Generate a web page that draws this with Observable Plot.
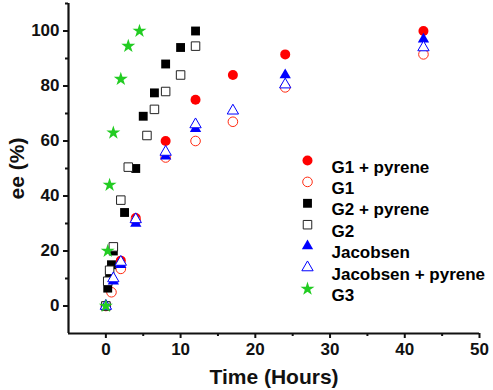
<!DOCTYPE html>
<html><head><meta charset="utf-8">
<script src="https://cdn.jsdelivr.net/npm/d3@7"></script>
<script src="https://cdn.jsdelivr.net/npm/@observablehq/plot@0.6"></script>
<style>
html,body{margin:0;padding:0;background:#fff;}
#chart svg{font-family:Arial,"Liberation Sans",sans-serif;}
</style>
</head><body><div id="chart"></div>
<script>
// Series (time in hours, ee in %)
const seriesNames = ["G1 + pyrene","G1","G2 + pyrene","G2","Jacobsen","Jacobsen + pyrene","G3"];
const g1pyX = [0, 2, 4, 8, 12, 17, 24, 42.5];
const g1pyY = [0, 16.5, 32, 60, 75, 84, 91.5, 100];
const g1X = [0, 0.75, 2, 4, 8, 12, 17, 24, 42.5];
const g1Y = [0, 5, 13.5, 31, 54, 60, 67, 79.5, 91.5];
const g2pyX = [0, 0.25, 0.5, 0.75, 1, 2.5, 4, 5, 6.5, 8, 10, 12];
const g2pyY = [0, 6.5, 11, 15, 20, 34, 50, 69, 77.5, 88, 94, 100];
const g2X = [0, 0.25, 0.5, 1, 2, 3, 5.5, 6.5, 8, 10, 12];
const g2Y = [0, 9, 13, 21.5, 38.5, 50.5, 62, 71.5, 78, 84, 94.5];
const jacX = [0, 1, 2, 4, 8, 12, 24, 42.5];
const jacY = [0, 9, 15, 30, 54.5, 64.5, 84, 97];
const jacpyX = [0, 1, 2, 4, 8, 12, 17, 24, 42.5];
const jacpyY = [0, 10, 16, 31.5, 56, 66, 71, 80.5, 94];
const g3X = [0, 0.25, 0.5, 1, 2, 3, 4.5];
const g3Y = [0, 20, 44, 63, 82.5, 94.5, 100];
const xTicks = [0, 10, 20, 30, 40, 50];
const xMinor = [5, 15, 25, 35, 45];
const yTicks = [0, 20, 40, 60, 80, 100];
const yMinor = [10, 30, 50, 70, 90, 110];

const styles = [
  {symbol:"circle", fill:"#ff0000", stroke:"none", r:5},
  {symbol:"circle", fill:"white", stroke:"#ff2a10", r:4.8},
  {symbol:"square", fill:"#000000", stroke:"none", r:5},
  {symbol:"square", fill:"white", stroke:"#222", r:4.8},
  {symbol:"triangle", fill:"#0000ff", stroke:"none", r:4.2},
  {symbol:"triangle", fill:"white", stroke:"#0000ff", r:4.2},
  {symbol:"star", fill:"#22cc22", stroke:"none", r:4.4}
];
const xs = [g1pyX, g1X, g2pyX, g2X, jacX, jacpyX, g3X];
const ys = [g1pyY, g1Y, g2pyY, g2Y, jacY, jacpyY, g3Y];
const tables = xs.map((xa, k) => xa.map((x, i) => ({x, y: ys[k][i]})));

const W = 493, H = 390;
const mL = 68, mR = 14, mT = 3, mB = 57;

const dataMarks = tables.map((t, k) => Plot.dot(t, {x:"x", y:"y", symbol: () => styles[k].symbol,
  r: styles[k].r, fill: styles[k].fill, stroke: styles[k].stroke, strokeWidth: 1}));

const legendMarks = [];
seriesNames.forEach((name, k) => {
  const s = styles[k];
  const dy = 157 + k * 21.4;
  legendMarks.push(Plot.dot([name], {frameAnchor:"top-left", dx: 239, dy, symbol: () => s.symbol,
    r: s.r, fill: s.fill, stroke: s.stroke, strokeWidth: 1}));
  legendMarks.push(Plot.text([name], {frameAnchor:"top-left", dx: 263, dy, text: d => d,
    textAnchor:"start", fontSize: 17, fontWeight:"bold", fill:"#000"}));
});

const plot = Plot.plot({
  width: W, height: H,
  marginLeft: mL, marginRight: mR, marginTop: mT, marginBottom: mB,
  x: {domain: [-5, 50]},
  y: {domain: [-10, 110]},
  symbol: {type: "identity"},
  style: {fontFamily: "Arial, 'Liberation Sans', sans-serif", background: "white", overflow: "visible"},
  marks: [
    Plot.ruleX([-5], {stroke:"#111", strokeWidth:2.2}),
    Plot.ruleY([-10], {stroke:"#111", strokeWidth:2.2}),
    Plot.axisX({ticks: xTicks, tickSize: 5, tickPadding: 4, fontSize: 17, fontWeight: "bold",
      stroke:"#111", strokeWidth: 2, fill:"#111", label: null}),
    Plot.axisX({ticks: xMinor, tickSize: 3, text: null, stroke:"#111", strokeWidth: 2, label: null}),
    Plot.axisY({ticks: yTicks, tickSize: 5, tickPadding: 4, fontSize: 17, fontWeight: "bold",
      stroke:"#111", strokeWidth: 2, fill:"#111", label: null}),
    Plot.axisY({ticks: yMinor, tickSize: 3, text: null, stroke:"#111", strokeWidth: 2, label: null}),
    Plot.text(["Time (Hours)"], {frameAnchor:"bottom", dy: 50, text: d => d, fontSize: 21, fontWeight:"bold", fill:"#111", lineAnchor:"bottom", textAnchor:"middle"}),
    Plot.text(["ee (%)"], {frameAnchor:"left", dx: -51, dy: 0, text: d => d, rotate: -90, textAnchor:"middle", fontSize: 21, fontWeight:"bold", fill:"#111"}),
    ...dataMarks,
    ...legendMarks
  ]
});
document.getElementById("chart").appendChild(plot);
</script>
</body></html>
